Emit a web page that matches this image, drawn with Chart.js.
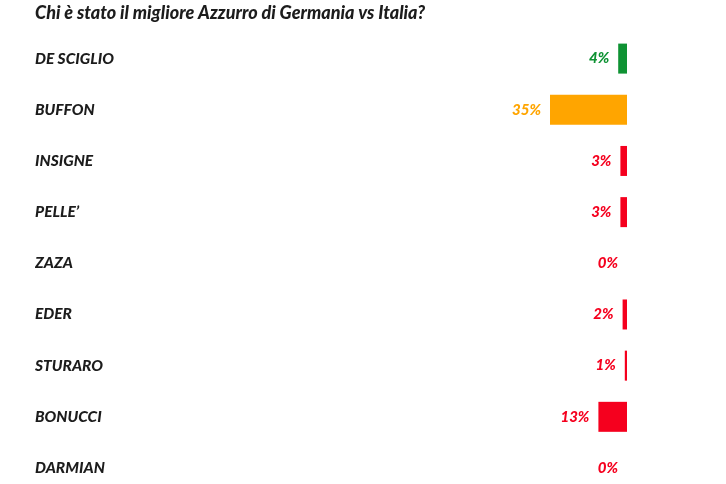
<!DOCTYPE html>
<html>
<head>
<meta charset="utf-8">
<script src="https://cdn.jsdelivr.net/npm/chart.js@4/dist/chart.umd.min.js"></script>
<style>
html,body{margin:0;padding:0;background:#fff;}
#wrap{width:726px;height:484px;}
</style>
</head>
<body>
<div id="wrap"><canvas id="c" width="726" height="484"></canvas></div>
<script>
const titleText = "Chi è stato il migliore Azzurro di Germania vs Italia?";
const players = ["DE SCIGLIO","BUFFON","INSIGNE","PELLE’","ZAZA","EDER","STURARO","BONUCCI","DARMIAN"];
const votes = [4, 35, 3, 3, 0, 2, 1, 13, 0];
const barColors = ["#0e9233","#ffa500","#f5001e","#f5001e","#f5001e","#f5001e","#f5001e","#f5001e","#f5001e"];

const valueLabels = {
  id: 'valueLabels',
  afterDatasetsDraw(chart) {
    const ctx = chart.ctx;
    const meta = chart.getDatasetMeta(0);
    ctx.save();
    ctx.font = 'italic 900 15px Lato';
    ctx.textAlign = 'right';
    ctx.textBaseline = 'middle';
    meta.data.forEach((bar, i) => {
      ctx.fillStyle = barColors[i];
      ctx.fillText(votes[i] + '%', bar.x - 9, bar.y);
    });
    ctx.restore();
  }
};

new Chart(document.getElementById('c'), {
  type: 'bar',
  data: {
    labels: players,
    datasets: [{
      data: votes,
      backgroundColor: barColors,
      barThickness: 30,
      inflateAmount: 0,
      clip: false
    }]
  },
  options: {
    indexAxis: 'y',
    responsive: false,
    animation: false,
    layout: { padding: { left: 35, right: 99, top: 0, bottom: 16 } },
    plugins: {
      legend: { display: false },
      tooltip: { enabled: false },
      title: {
        display: true,
        text: titleText,
        align: 'start',
        color: '#1c1c1c',
        font: { family: 'Lato', size: 18, weight: 900, style: 'italic', lineHeight: 1.2 },
        padding: { top: 2, bottom: 35 }
      }
    },
    scales: {
      x: { display: false, reverse: true, min: 0, max: 100 },
      y: {
        offset: false,
        grid: { display: false },
        border: { display: false },
        afterFit(scale) { scale.width = 372; },
        ticks: {
          crossAlign: 'far',
          padding: 0,
          color: '#1c1c1c',
          font: { family: 'Lato', size: 15.5, weight: 900, style: 'italic' }
        }
      }
    }
  },
  plugins: [valueLabels]
});
</script>
</body>
</html>
